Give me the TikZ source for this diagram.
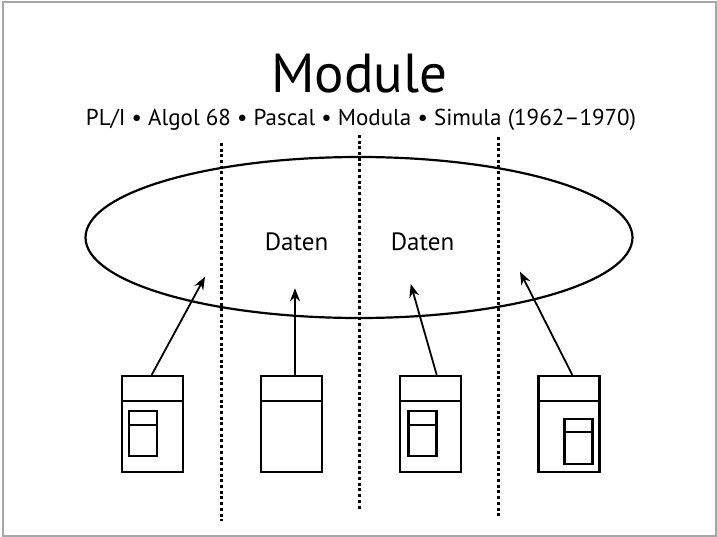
\documentclass[tikz,border=0pt]{standalone}
\usepackage{fontspec}
\setmainfont{PT Sans}
\usetikzlibrary{shapes.geometric, arrows.meta, positioning}

\tikzset{
    modbox/.style={draw, line width=2.2pt, minimum width=61, minimum height=96, inner sep=0},
    innerbox/.style={draw, line width=2.2pt, minimum width=28, minimum height=45, inner sep=0},
    sep/.style={line width=3pt, dash pattern=on 3pt off 2.7pt},
    link/.style={-{Stealth[length=13pt, width=10pt]}, line width=1.8pt}
}

\begin{document}
\begin{tikzpicture}[x=1pt, y=-1pt]

\useasboundingbox (0,0) rectangle (717,537);
\draw[gray!70, line width=2pt] (3,2.5) rectangle (716,536);

\node[anchor=base, font=\fontsize{55}{55}\selectfont] (title) at (359.5,93) {Module};
\node[anchor=base, font=\fontsize{23}{23}\selectfont] (langs) at (361,126)
    {PL/I • Algol 68 • Pascal • Modula • Simula (1962–1970)};

% separators
\draw[sep] (221,143) -- (221,521);
\draw[sep] (359,135) -- (359,510);
\draw[sep] (498,137) -- (498,516);

\node[draw,
    ellipse,
    line width=2.2pt,
    minimum width=547,
    minimum height=161,
    inner sep=0] (data) at (359,237.5) {};

\node[anchor=base, font=\fontsize{25}{25}\selectfont] (daten1) at (296.5,251) {Daten};
\node[anchor=base, font=\fontsize{25}{25}\selectfont] (daten2) at (422.5,251) {Daten};

% modules
\node[modbox] (m1) at (152.5,424) {};
\node[modbox] (m2) at (291.5,424) {};
\node[modbox] (m3) at (430.3,424) {};
\node[modbox] (m4) at (569,424) {};
\foreach \m in {m1,m2,m3,m4}
    \draw[line width=2pt] ([yshift=-26.3]\m.north west) -- ([yshift=-26.3]\m.north east);

\node[innerbox] (i1) at (143,433.5) {};
\node[innerbox] (i3) at (422.5,433.5) {};
\node[innerbox] (i4) at (578.5,441.2) {};
\foreach \i in {i1,i3,i4}
    \draw[line width=2pt] ([yshift=-14.6]\i.north west) -- ([yshift=-14.6]\i.north east);

% accesses
\coordinate (t1) at (205,276.7);
\coordinate (t2) at (295,288.3);
\coordinate (t3) at (410.7,284);
\coordinate (t4) at (520,271.7);
\draw[link] ([xshift=-0.8]m1.north) -- (t1);
\draw[link] ([xshift=3.5]m2.north) -- (t2);
\draw[link] ([xshift=6.4]m3.north) -- (t3);
\draw[link] ([xshift=3.3]m4.north) -- (t4);

\end{tikzpicture}
\end{document}
